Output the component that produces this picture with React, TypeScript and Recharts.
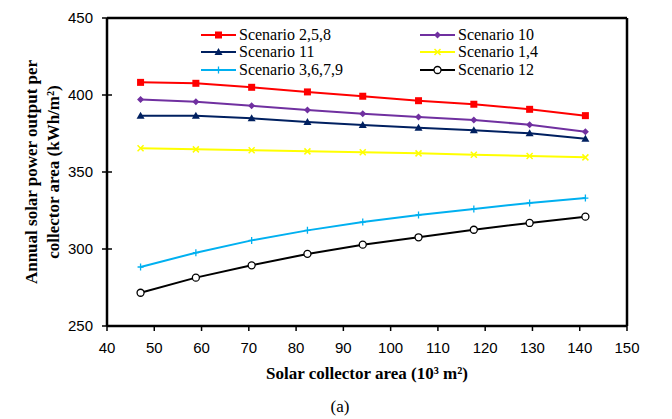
import React from 'react'
import {
  LineChart,
  Line,
  XAxis,
  YAxis,
  Legend,
  ReferenceLine,
} from 'recharts'

const collectorArea = [47.1, 58.8, 70.6, 82.4, 94.1, 105.9, 117.6, 129.4, 141.2]

const scenario258 = [408.2, 407.6, 405.0, 402.0, 399.2, 396.3, 394.0, 390.7, 386.6]
const scenario10 = [397.0, 395.6, 393.0, 390.3, 387.9, 385.7, 383.8, 380.7, 376.2]
const scenario11 = [386.6, 386.6, 384.9, 382.5, 380.5, 378.8, 377.1, 375.1, 371.6]
const scenario14 = [365.4, 364.7, 364.1, 363.4, 362.8, 362.1, 361.2, 360.4, 359.5]
const scenario3679 = [288.3, 297.6, 305.6, 312.1, 317.5, 322.1, 326.0, 329.9, 333.1]
const scenario12 = [271.6, 281.4, 289.4, 296.8, 302.8, 307.6, 312.5, 316.9, 321.0]

const xTicks = [40, 50, 60, 70, 80, 90, 100, 110, 120, 130, 140, 150]
const yTicks = [250, 300, 350, 400, 450]

type Marker = 'square' | 'diamond' | 'triangle' | 'cross' | 'plus' | 'circle'

interface SeriesDef {
  key: string
  name: string
  color: string
  marker: Marker
  values: number[]
}

const series: SeriesDef[] = [
  { key: 's258', name: 'Scenario 2,5,8', color: '#FF0000', marker: 'square', values: scenario258 },
  { key: 's10', name: 'Scenario 10', color: '#7030A0', marker: 'diamond', values: scenario10 },
  { key: 's11', name: 'Scenario 11', color: '#002060', marker: 'triangle', values: scenario11 },
  { key: 's14', name: 'Scenario 1,4', color: '#FFFF00', marker: 'cross', values: scenario14 },
  { key: 's3679', name: 'Scenario 3,6,7,9', color: '#00B0F0', marker: 'plus', values: scenario3679 },
  { key: 's12', name: 'Scenario 12', color: '#000000', marker: 'circle', values: scenario12 },
]

const data = collectorArea.map((x, i) => {
  const row: Record<string, number> = { x }
  series.forEach((s) => {
    row[s.key] = s.values[i]
  })
  return row
})

const serif = '"Liberation Serif", "Times New Roman", serif'
const sans = '"Liberation Sans", Arial, sans-serif'

const Y_TICK_SIZE = 5
const Y_TICK_MARGIN = 9

const drawMarker = (marker: Marker, cx: number, cy: number, color: string, key?: string) => {
  switch (marker) {
    case 'square':
      return <rect key={key} x={cx - 3.5} y={cy - 3.5} width={7} height={7} fill={color} />
    case 'diamond':
      return (
        <path key={key} d={`M${cx},${cy - 3.5}L${cx + 3.5},${cy}L${cx},${cy + 3.5}L${cx - 3.5},${cy}Z`} fill={color} />
      )
    case 'triangle':
      return (
        <path key={key} d={`M${cx},${cy - 4}L${cx + 4},${cy + 3}L${cx - 4},${cy + 3}Z`} fill={color} />
      )
    case 'cross':
      return (
        <path
          key={key}
          d={`M${cx - 3},${cy - 3}L${cx + 3},${cy + 3}M${cx + 3},${cy - 3}L${cx - 3},${cy + 3}`}
          stroke={color}
          strokeWidth={1.5}
          fill="none"
        />
      )
    case 'plus':
      return (
        <path
          key={key}
          d={`M${cx - 3},${cy}L${cx + 3},${cy}M${cx},${cy - 3.5}L${cx},${cy + 3.5}`}
          stroke={color}
          strokeWidth={1.3}
          fill="none"
        />
      )
    default:
      return <circle key={key} cx={cx} cy={cy} r={3.5} fill="#fff" stroke={color} strokeWidth={1.3} />
  }
}

const LegendBox = () => {
  const cols = [201, 420]
  const rows = [35, 52, 70]
  return (
    <svg width={672} height={419} style={{ position: 'absolute', left: 0, top: 0, pointerEvents: 'none' }}>
      {series.map((s, i) => {
        const x = cols[i % 2]
        const y = rows[Math.floor(i / 2)]
        return (
          <g key={s.key}>
            <line x1={x} x2={x + 35} y1={y} y2={y} stroke={s.color} strokeWidth={2} />
            {drawMarker(s.marker, x + 17.5, y, s.color)}
            <text x={x + 38} y={y + 5} style={{ fontFamily: serif, fontSize: 16 }} fill="#000">
              {s.name}
            </text>
          </g>
        )
      })}
    </svg>
  )
}

// y ticks cross the axis line, so draw them with the label
const YTick = (props: any) => {
  const { x, y, payload } = props
  const axisX = x + Y_TICK_MARGIN + Y_TICK_SIZE
  return (
    <g>
      <line x1={axisX - Y_TICK_SIZE} x2={axisX + Y_TICK_SIZE} y1={y} y2={y} stroke="#000" strokeWidth={1.5} />
      <text x={x} y={y} dy="0.36em" textAnchor="end" fontFamily={sans} fontSize={15} fill="#000">
        {payload.value}
      </text>
    </g>
  )
}

const XTitle = (props: any) => {
  const vb = props.viewBox || {}
  const cx = vb.x + vb.width / 2
  return (
    <g>
      <text x={cx} y={379} textAnchor="middle" fontFamily={serif} fontSize={17} fontWeight="bold" fill="#000">
        Solar collector area (10³ m²)
      </text>
      <text x={340} y={412} textAnchor="middle" fontFamily={serif} fontSize={17} fill="#000">
        (a)
      </text>
    </g>
  )
}

const YTitle = () => {
  const cy = 172
  return (
    <g>
      <text
        transform={`translate(37, ${cy}) rotate(-90)`}
        textAnchor="middle"
        fontFamily={serif}
        fontSize={17}
        fontWeight="bold"
        fill="#000"
      >
        Annual solar power output per
      </text>
      <text
        transform={`translate(59, ${cy}) rotate(-90)`}
        textAnchor="middle"
        fontFamily={serif}
        fontSize={17}
        fontWeight="bold"
        fill="#000"
      >
        collector area (kWh/m²)
      </text>
    </g>
  )
}

const App: React.FC = () => {
  return (
    <div style={{ position: 'absolute', left: 0, top: 0, width: 672, height: 419, background: '#fff' }}>
      <LineChart
        width={672}
        height={419}
        data={data}
        margin={{ top: 18, right: 45, left: 47, bottom: 63 }}
      >
        <XAxis
          type="number"
          dataKey="x"
          domain={[40, 150]}
          ticks={xTicks}
          interval={0}
          height={30}
          axisLine={{ stroke: '#000', strokeWidth: 2.5 }}
          tickLine={{ stroke: '#000', strokeWidth: 1.5 }}
          tickSize={5}
          tickMargin={11}
          tick={{ fill: '#000', fontFamily: sans, fontSize: 15 }}
          label={<XTitle />}
        />
        <YAxis
          type="number"
          domain={[250, 450]}
          ticks={yTicks}
          interval={0}
          width={60}
          axisLine={{ stroke: '#000', strokeWidth: 2.5 }}
          tickLine={false}
          tickSize={Y_TICK_SIZE}
          tickMargin={Y_TICK_MARGIN}
          tick={<YTick />}
          label={<YTitle />}
        />
        <ReferenceLine x={150} stroke="#000" strokeWidth={2.5} ifOverflow="visible" />
        <ReferenceLine y={450} stroke="#000" strokeWidth={2.5} ifOverflow="visible" />
        {series.map((s) => (
          <Line
            key={s.key}
            type="linear"
            dataKey={s.key}
            name={s.name}
            stroke={s.color}
            strokeWidth={2}
            isAnimationActive={false}
            dot={(p: any) => drawMarker(s.marker, p.cx, p.cy, s.color, `${s.key}-${p.index}`)}
            activeDot={false}
          />
        ))}
        <Legend content={() => null} />
      </LineChart>
      <LegendBox />
    </div>
  )
}

export default App
